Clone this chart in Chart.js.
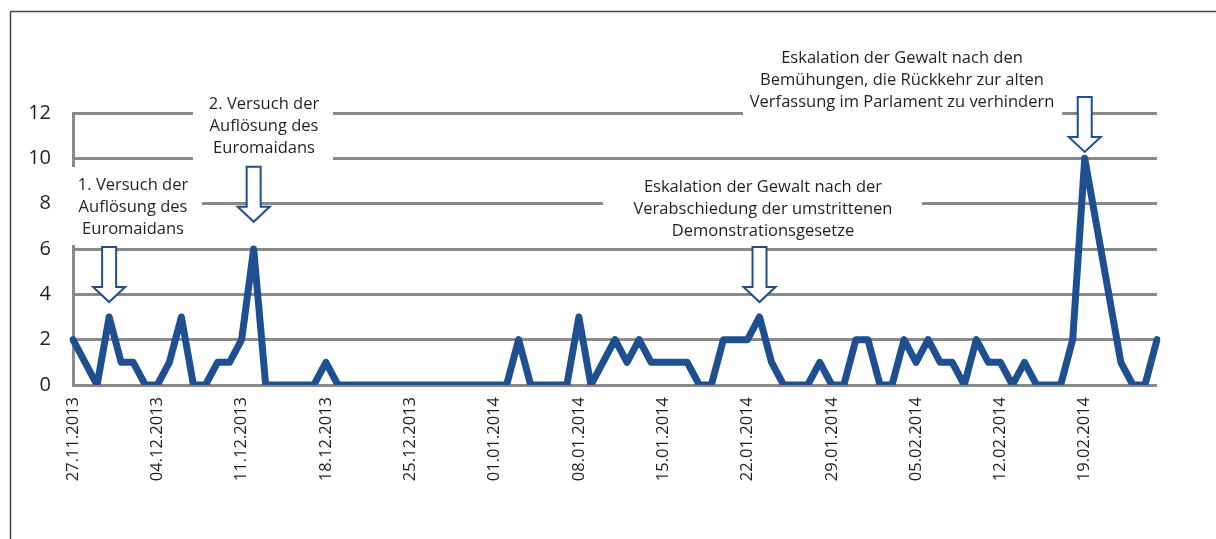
<!DOCTYPE html>
<html>
<head>
<meta charset="utf-8">
<script src="https://cdn.jsdelivr.net/npm/chart.js@4"></script>
<style>
  html, body { margin: 0; padding: 0; background: #fff; }
  #wrap { width: 1216px; height: 539px; position: relative; }
</style>
</head>
<body>
<div id="wrap"><canvas id="grafico"></canvas></div>
<script>
// Tage (27.11.2013 - 25.02.2014)
const tage = [
  "27.11.2013","28.11.2013","29.11.2013","30.11.2013",
  "01.12.2013","02.12.2013","03.12.2013","04.12.2013","05.12.2013","06.12.2013","07.12.2013",
  "08.12.2013","09.12.2013","10.12.2013","11.12.2013","12.12.2013","13.12.2013","14.12.2013",
  "15.12.2013","16.12.2013","17.12.2013","18.12.2013","19.12.2013","20.12.2013","21.12.2013",
  "22.12.2013","23.12.2013","24.12.2013","25.12.2013","26.12.2013","27.12.2013","28.12.2013",
  "29.12.2013","30.12.2013","31.12.2013","01.01.2014","02.01.2014","03.01.2014","04.01.2014",
  "05.01.2014","06.01.2014","07.01.2014","08.01.2014","09.01.2014","10.01.2014","11.01.2014",
  "12.01.2014","13.01.2014","14.01.2014","15.01.2014","16.01.2014","17.01.2014","18.01.2014",
  "19.01.2014","20.01.2014","21.01.2014","22.01.2014","23.01.2014","24.01.2014","25.01.2014",
  "26.01.2014","27.01.2014","28.01.2014","29.01.2014","30.01.2014","31.01.2014","01.02.2014",
  "02.02.2014","03.02.2014","04.02.2014","05.02.2014","06.02.2014","07.02.2014","08.02.2014",
  "09.02.2014","10.02.2014","11.02.2014","12.02.2014","13.02.2014","14.02.2014","15.02.2014",
  "16.02.2014","17.02.2014","18.02.2014","19.02.2014","20.02.2014","21.02.2014","22.02.2014",
  "23.02.2014","24.02.2014","25.02.2014"
];

// Werte pro Tag
const werte = [
  2,1,0,3,1,1,0,0,1,3,
  0,0,1,1,2,6,0,0,0,0,
  0,1,0,0,0,0,0,0,0,0,
  0,0,0,0,0,0,0,2,0,0,
  0,0,3,0,1,2,1,2,1,1,
  1,1,0,0,2,2,2,3,1,0,
  0,0,1,0,0,2,2,0,0,2,
  1,2,1,1,0,2,1,1,0,1,
  0,0,0,2,10,7,4,1,0,0,2
];

// Beschriftete Daten auf der x-Achse
const achsenDaten = [
  "27.11.2013","04.12.2013","11.12.2013","18.12.2013","25.12.2013","01.01.2014","08.01.2014",
  "15.01.2014","22.01.2014","29.01.2014","05.02.2014","12.02.2014","19.02.2014"
];

// Anmerkungen mit Pfeil
const anmerkungen = [
  { tag: "30.11.2013", spitze: 3.66,
    text: ["1. Versuch der", "Auflösung des", "Euromaidans"],
    cx: 133, y0: 185, box: [62, 167, 140, 78] },
  { tag: "12.12.2013", spitze: 7.2,
    text: ["2. Versuch der", "Auflösung des", "Euromaidans"],
    cx: 264, y0: 104, box: [193, 92, 140, 70] },
  { tag: "23.01.2014", spitze: 3.66,
    text: ["Eskalation der Gewalt nach der", "Verabschiedung der umstrittenen", "Demonstrationsgesetze"],
    cx: 763, y0: 187, box: [603, 172, 319, 70] },
  { tag: "19.02.2014", spitze: 10.28,
    text: ["Eskalation der Gewalt nach den", "Bemühungen, die Rückkehr zur alten", "Verfassung im Parlament zu verhindern"],
    cx: 902, y0: 58, box: [743, 42, 319, 74] }
];

const blau = "#1d4f91";
const grau = "#8a8a8c";

function pfeil(ctx, cx, spitzeY) {
  const sw = 14, sh = 40, hw = 32, hh = 15;
  const top = spitzeY - sh - hh;
  ctx.beginPath();
  ctx.moveTo(cx - sw / 2, top);
  ctx.lineTo(cx + sw / 2, top);
  ctx.lineTo(cx + sw / 2, top + sh);
  ctx.lineTo(cx + hw / 2, top + sh);
  ctx.lineTo(cx, spitzeY);
  ctx.lineTo(cx - hw / 2, top + sh);
  ctx.lineTo(cx - sw / 2, top + sh);
  ctx.closePath();
  ctx.fillStyle = "#fff";
  ctx.fill();
  ctx.lineWidth = 2;
  ctx.strokeStyle = blau;
  ctx.stroke();
}

const rahmenPlugin = {
  id: "rahmen",
  beforeDraw(chart) {
    const ctx = chart.ctx;
    ctx.save();
    ctx.fillStyle = "#fff";
    ctx.fillRect(0, 0, chart.width, chart.height);
    ctx.strokeStyle = "#4a4a4a";
    ctx.lineWidth = 1.5;
    ctx.strokeRect(10.5, 11.5, 1400, 700);
    ctx.restore();
  },
  afterDraw(chart) {
    const ctx = chart.ctx;
    const x = chart.scales.x, y = chart.scales.y;
    ctx.save();
    anmerkungen.forEach(a => {
      ctx.fillStyle = "#fff";
      ctx.fillRect(a.box[0], a.box[1], a.box[2], a.box[3]);
      ctx.fillStyle = "#231f20";
      ctx.font = "16.5px 'Open Sans'";
      ctx.textAlign = "center";
      ctx.textBaseline = "middle";
      a.text.forEach((t, i) => ctx.fillText(t, a.cx, a.y0 + i * 22));
      pfeil(ctx, x.getPixelForValue(tage.indexOf(a.tag)), y.getPixelForValue(a.spitze));
    });
    ctx.restore();
  }
};

new Chart(document.getElementById("grafico"), {
  type: "line",
  data: {
    labels: tage,
    datasets: [{
      data: werte,
      borderColor: blau,
      borderWidth: 7,
      pointRadius: 0,
      tension: 0,
      borderJoinStyle: "round",
      borderCapStyle: "round"
    }]
  },
  options: {
    responsive: true,
    maintainAspectRatio: false,
    animation: false,
    layout: { padding: { top: 113, right: 59, bottom: 0, left: 0 } },
    plugins: { legend: { display: false }, tooltip: { enabled: false } },
    scales: {
      x: {
        grid: { display: false, drawTicks: false },
        border: { display: false },
        afterFit(s) { s.height = 154; },
        ticks: {
          autoSkip: false,
          maxRotation: 90,
          minRotation: 90,
          padding: 12,
          color: "#231f20",
          font: { family: "'Open Sans'", size: 16.5 },
          callback(v, i) {
            const t = tage[i];
            return achsenDaten.includes(t) ? t : null;
          }
        }
      },
      y: {
        min: 0,
        max: 12,
        afterFit(s) { s.width = 73; },
        grid: { color: grau, lineWidth: 3, drawTicks: false },
        border: { display: true, color: grau, width: 3 },
        ticks: {
          stepSize: 2,
          padding: 22,
          color: "#231f20",
          font: { family: "'Open Sans'", size: 20 }
        }
      }
    }
  },
  plugins: [rahmenPlugin]
});
</script>
</body>
</html>
